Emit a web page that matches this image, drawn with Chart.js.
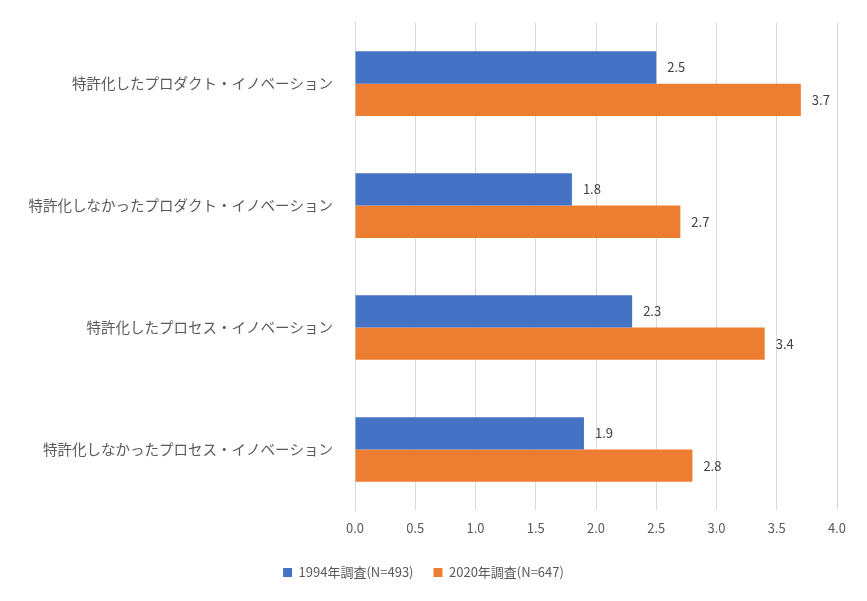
<!DOCTYPE html>
<html><head><meta charset="utf-8">
<script src="https://cdn.jsdelivr.net/npm/chart.js@4"></script>
<style>body{margin:0;background:#fff}#w{width:867px;height:601px}</style>
</head><body><div id="w"><canvas id="c"></canvas></div>
<script>
const categories=["特許化したプロダクト・イノベーション","特許化しなかったプロダクト・イノベーション","特許化したプロセス・イノベーション","特許化しなかったプロセス・イノベーション"];
const series1994=[2.5,1.8,2.3,1.9];
const series2020=[3.7,2.7,3.4,2.8];
const seriesNames=["1994年調査(N=493)","2020年調査(N=647)"];
const font="'Noto Sans CJK JP','Noto Sans',sans-serif";
const labelPlugin={id:'lbl',afterDatasetsDraw(ch){const c=ch.ctx;c.save();c.font="13px "+font;c.fillStyle="#404040";c.textBaseline="middle";
ch.data.datasets.forEach((d,i)=>{ch.getDatasetMeta(i).data.forEach((b,j)=>{c.fillText(d.data[j].toFixed(1),b.x+11,b.y);});});c.restore();}};
new Chart(document.getElementById('c'),{type:'bar',
data:{labels:categories,datasets:[
{label:seriesNames[0],data:series1994,backgroundColor:'#4472C4'},
{label:seriesNames[1],data:series2020,backgroundColor:'#ED7D31'}]},
options:{indexAxis:'y',responsive:true,maintainAspectRatio:false,animation:false,
categoryPercentage:0.53,barPercentage:1,
layout:{padding:{top:22,right:30,left:10,bottom:12}},
scales:{x:{min:0,max:4,ticks:{stepSize:0.5,callback:v=>v.toFixed(1),color:'#595959',font:{size:13,family:font},padding:10},grid:{color:'#d9d9d9',drawTicks:false},border:{display:false}},
y:{afterFit:a=>{a.width=345;},ticks:{color:'#595959',font:{size:14.5,family:font},padding:14},grid:{display:false},border:{color:'#d9d9d9'}}},
plugins:{legend:{position:'bottom',labels:{boxWidth:9,boxHeight:9,color:'#595959',font:{size:13,family:font},padding:20}},tooltip:{enabled:false}}},
plugins:[labelPlugin]});
</script></body></html>
